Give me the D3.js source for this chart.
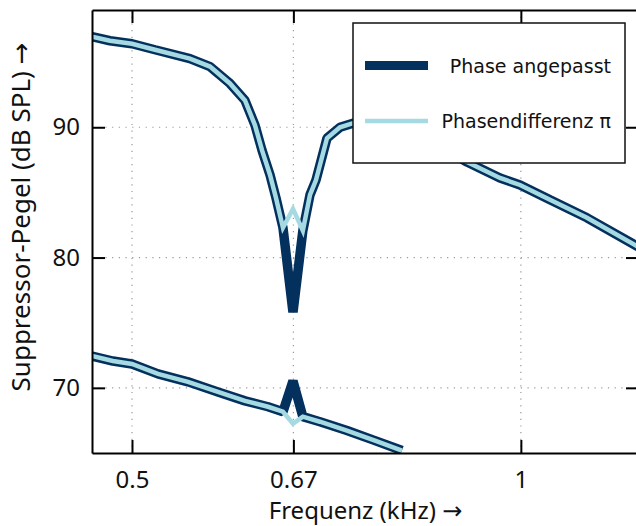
<!DOCTYPE html>
<html>
<head>
<meta charset="utf-8">
<script src="https://cdn.jsdelivr.net/npm/d3@7"></script>
<style>
  body { margin: 0; background: #fff; }
  svg { display: block; }
</style>
</head>
<body>
<svg id="chart" width="636" height="526"></svg>
<script>
// values (kHz / dB SPL)
var freqUpper = [0.4656, 0.4808, 0.5, 0.5209, 0.5544, 0.5746, 0.5954, 0.6116, 0.6226, 0.6304,
                 0.6395, 0.6463, 0.6544, 0.6662, 0.678, 0.6867, 0.6941, 0.7078, 0.7244, 0.7414,
                 0.7779, 0.8207, 0.8658, 0.9085, 0.9635, 0.9985, 1.0533, 1.1251, 1.2278, 1.259];
var upperAdapted = [96.95, 96.64, 96.41, 95.95, 95.27, 94.66, 93.36, 92.06, 90.15, 88.24,
                    86.34, 84.58, 82.29, 75.8, 82.06, 84.81, 85.95, 89.16, 90.0, 90.31,
                    90.38, 89.77, 88.55, 87.33, 86.11, 85.57, 84.43, 83.05, 80.92, 80.31];
var upperPi = [96.95, 96.64, 96.41, 95.95, 95.27, 94.66, 93.36, 92.06, 90.15, 88.24,
               86.34, 84.58, 82.29, 83.74, 82.06, 84.81, 85.95, 89.16, 90.0, 90.31,
               90.38, 89.77, 88.55, 87.33, 86.11, 85.57, 84.43, 83.05, 80.92, 80.31];

var freqLower = [0.4656, 0.4833, 0.5, 0.5237, 0.5525, 0.5828, 0.6116, 0.6372, 0.6544, 0.6662,
                 0.678, 0.699, 0.7335, 0.7711, 0.8091];
var lowerAdapted = [72.44, 72.06, 71.83, 71.07, 70.46, 69.69, 69.0, 68.55, 68.17, 70.53,
                    67.79, 67.40, 66.72, 65.95, 65.19];
var lowerPi = [72.44, 72.06, 71.83, 71.07, 70.46, 69.69, 69.0, 68.55, 68.17, 67.25,
               67.79, 67.40, 66.72, 65.95, 65.19];

var xTicks = [0.5, 2 / 3, 1];
var xTickLabels = ["0.5", "0.67", "1"];
var yTicks = [70, 80, 90];
var seriesNames = ["Phase angepasst", "Phasendifferenz π"];

var dark = "#03305d", light = "#a6dae2";

var plotL = 92, plotR = 639, plotT = 10, plotB = 453;

var svg = d3.select("#chart");

var x = d3.scaleLog().domain([0.4656, 1.2344]).range([plotL, plotR]);
var y = d3.scaleLinear().domain([65, 99]).range([plotB, plotT]);

// dotted grid
var grid = svg.append("g")
  .attr("stroke", "#999")
  .attr("stroke-width", 1.2)
  .attr("stroke-dasharray", "1.2,5.5");
grid.selectAll(".gx").data(xTicks).enter().append("line")
  .attr("x1", function(d) { return x(d); }).attr("x2", function(d) { return x(d); })
  .attr("y1", plotT).attr("y2", plotB);
grid.selectAll(".gy").data(yTicks).enter().append("line")
  .attr("x1", plotL).attr("x2", plotR)
  .attr("y1", function(d) { return y(d); }).attr("y2", function(d) { return y(d); });

svg.append("clipPath").attr("id", "plot")
  .append("rect").attr("x", plotL).attr("y", plotT)
  .attr("width", plotR - plotL).attr("height", plotB - plotT);

var line = d3.line()
  .x(function(d) { return x(d[0]); })
  .y(function(d) { return y(d[1]); });

var curves = svg.append("g").attr("clip-path", "url(#plot)").attr("fill", "none");

function draw(freqs, vals, color, width) {
  curves.append("path")
    .datum(d3.zip(freqs, vals))
    .attr("d", line)
    .attr("stroke", color)
    .attr("stroke-width", width)
    .attr("stroke-linejoin", color === dark ? "bevel" : "miter");
}

draw(freqUpper, upperAdapted, dark, 9.5);
draw(freqLower, lowerAdapted, dark, 9.5);
draw(freqUpper, upperPi, light, 4.5);
draw(freqLower, lowerPi, light, 4.5);

// axes
function styleAxis(g) {
  g.selectAll("path, line").attr("stroke", "#000").attr("stroke-width", 2);
  g.selectAll("text").attr("fill", "#111").style("font-family", "Noto Sans").style("font-size", "24px");
}

svg.append("g").attr("transform", "translate(0," + plotB + ")")
  .call(d3.axisBottom(x).tickValues(xTicks)
    .tickFormat(function(d, i) { return xTickLabels[i]; })
    .tickSize(-13).tickSizeOuter(0).tickPadding(18))
  .call(styleAxis);

svg.append("g").attr("transform", "translate(0," + plotT + ")")
  .call(d3.axisTop(x).tickValues(xTicks).tickFormat("").tickSize(-13).tickSizeOuter(0))
  .call(styleAxis);

svg.append("g").attr("transform", "translate(" + plotL + ",0)")
  .call(d3.axisLeft(y).tickValues(yTicks).tickSize(-13).tickSizeOuter(0).tickPadding(12))
  .call(styleAxis);

svg.append("g").attr("transform", "translate(" + plotR + ",0)")
  .call(d3.axisRight(y).tickValues(yTicks).tickFormat("").tickSize(-13).tickSizeOuter(0))
  .call(styleAxis);

// axis titles, arrow in DejaVu for the wide glyph
function title(sel, label, size) {
  sel.attr("text-anchor", "middle")
    .style("font-family", "Noto Sans").style("font-size", size + "px").attr("fill", "#111");
  sel.append("tspan").text(label + " ");
  sel.append("tspan").style("font-family", "DejaVu Sans").text("→");
}

svg.append("text")
  .attr("x", (plotL + plotR) / 2).attr("y", 519)
  .call(title, "Frequenz (kHz)", 24);

svg.append("text")
  .attr("transform", "translate(30,217) rotate(-90)")
  .call(title, "Suppressor-Pegel (dB SPL)", 26);

// legend
var legend = svg.append("g");
legend.append("rect")
  .attr("x", 353).attr("y", 23).attr("width", 272).attr("height", 140)
  .attr("fill", "#fff").attr("stroke", "#111").attr("stroke-width", 1.5);

var legendRows = [
  { name: seriesNames[0], color: dark, width: 9, y: 65.5 },
  { name: seriesNames[1], color: light, width: 4.5, y: 121 }
];
legendRows.forEach(function(r) {
  legend.append("line")
    .attr("x1", 365).attr("x2", 428).attr("y1", r.y).attr("y2", r.y)
    .attr("stroke", r.color).attr("stroke-width", r.width);
  legend.append("text")
    .attr("x", 611).attr("y", r.y + 7)
    .attr("text-anchor", "end")
    .style("font-family", "DejaVu Sans").style("font-size", "19px").attr("fill", "#111")
    .text(r.name);
});
</script>
</body>
</html>
